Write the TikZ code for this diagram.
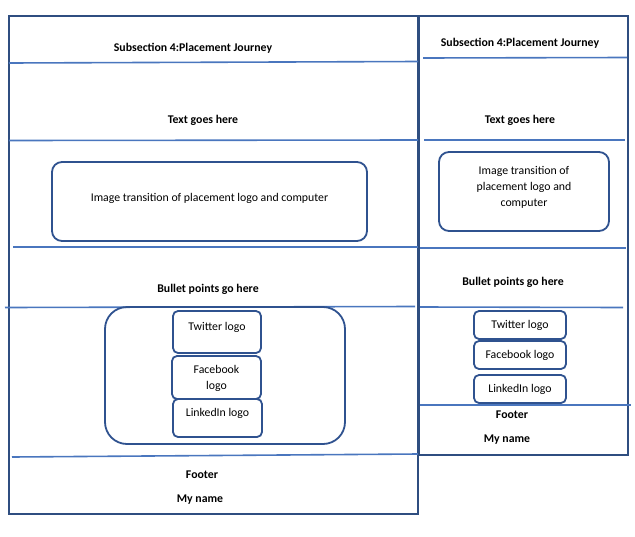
\documentclass[tikz,border=0pt]{standalone}
\usepackage{fontspec}
\setmainfont{Carlito}
\definecolor{framecol}{HTML}{2F4E80}
\definecolor{sepcol}{HTML}{4A76BE}
\definecolor{boxcol}{HTML}{2F528F}
\tikzset{
  frame/.style={draw=framecol, line width=2pt, inner sep=0pt},
  sepline/.style={draw=sepcol, line width=1.6pt},
  lbl/.style={font=\fontsize{11.8}{14}\selectfont\bfseries, inner sep=0pt, yshift=-1.5pt},
  box/.style={draw=boxcol, line width=1.8pt, rounded corners=#1, inner sep=0pt, align=center, font=\fontsize{11.8}{16}\selectfont},
  box/.default=5pt
}
\begin{document}
\begin{tikzpicture}[x=1pt,y=-1pt]
\useasboundingbox (0,0) rectangle (635,536);
% frames
\node[frame, minimum width=409pt, minimum height=498pt] (lf) at (213.5,265) {};
\node[frame, minimum width=209pt, minimum height=439pt] (rf) at (523.5,235.5) {};
% separators left
\draw[sepline] (9,63) -- (418,61.5);
\draw[sepline] (9,140.5) -- (418,140);
\draw[sepline] (13,247) -- (418,247);
\draw[sepline] (5,307.5) -- (415,306.5);
\draw[sepline] (12,457) -- (418,454);
% separators right
\draw[sepline] (423,58) -- (627,57.5);
\draw[sepline] (424,140) -- (625,140);
\draw[sepline] (420,248) -- (626,248);
\draw[sepline] (420,307) -- (623,307.5);
\draw[sepline] (420,405) -- (631,405);
% left labels
\node[lbl] (ltitle) at (193,47) {Subsection 4:Placement Journey};
\node[lbl] (ltext) at (203,119) {Text goes here};
\node[lbl] (lbullet) at (208,288) {Bullet points go here};
\node[lbl] (lfooter) at (202,473) {Footer};
\node[lbl] (lname) at (200,498) {My name};
% right labels
\node[lbl] (rtitle) at (520,42) {Subsection 4:Placement Journey};
\node[lbl] (rtext) at (520,119) {Text goes here};
\node[lbl] (rbullet) at (513,281) {Bullet points go here};
\node[lbl] (rfooter) at (512,413) {Footer};
\node[lbl] (rname) at (507,438) {My name};
% left boxes
\node[box=10pt, minimum width=315pt, minimum height=79pt, text depth=8pt] (limg) at (209.5,201.5) {Image transition of placement logo and computer};
\node[box=22pt, minimum width=240pt, minimum height=137pt] (lsoc) at (225,375.5) {};
\node[box, minimum width=88pt, minimum height=42pt, text depth=11pt] (ltw) at (217,332) {Twitter logo};
\node[box, minimum width=89pt, minimum height=43pt, text depth=0pt] (lfb) at (216.5,377.5) {Facebook\\logo};
\node[box, minimum width=89pt, minimum height=38pt, text depth=11pt] (lli) at (217.5,418) {LinkedIn logo};
% right boxes
\node[box=10pt, minimum width=170pt, minimum height=79pt, text depth=10pt] (rimg) at (524,191.5) {Image transition of\\placement logo and\\computer};
\node[box, minimum width=92pt, minimum height=28pt] (rtw) at (520,325) {Twitter logo};
\node[box, minimum width=92pt, minimum height=28pt] (rfb) at (520,355) {Facebook logo};
\node[box, minimum width=92pt, minimum height=28pt] (rli) at (520,389) {LinkedIn logo};
\end{tikzpicture}
\end{document}
